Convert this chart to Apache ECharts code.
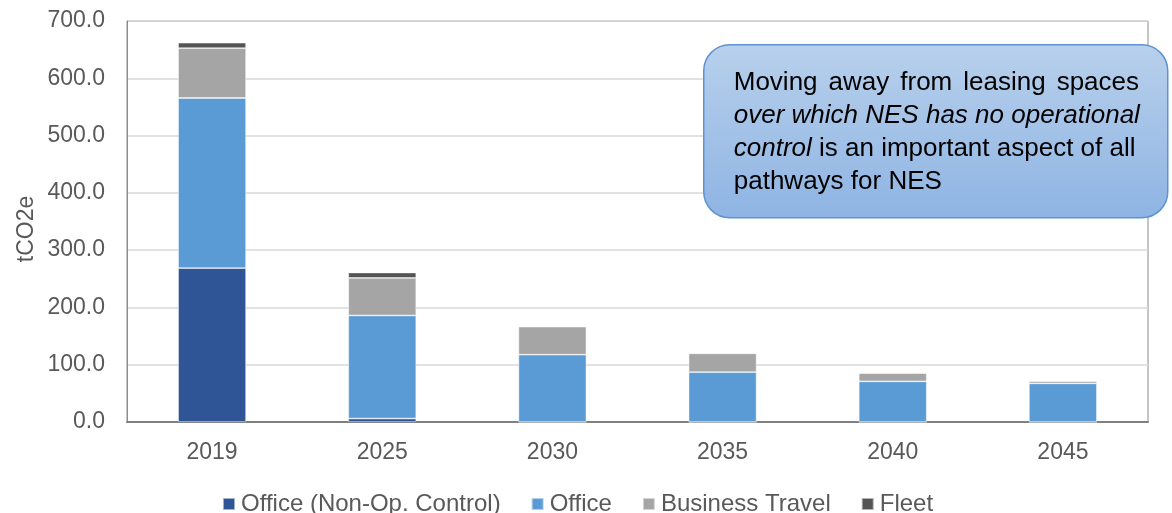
<!DOCTYPE html>
<html>
<head>
<meta charset="utf-8">
<script src="https://cdn.jsdelivr.net/npm/echarts@6/dist/echarts.min.js"></script>
<style>
  html, body { margin: 0; padding: 0; background: #fff; }
  #chart { width: 1172px; height: 513px; }
</style>
</head>
<body>
<div id="chart"></div>
<script>
// Emissions pathway, tCO2e by year and source
const years = ['2019', '2025', '2030', '2035', '2040', '2045'];
const officeNonOp = [268.6, 6, 0, 0, 0, 0];
const office = [297, 180, 117.5, 87, 71, 67.5];
const businessTravel = [87, 65.5, 49, 33, 14.5, 4];
const fleet = [9.5, 9.5, 1.5, 1, 1, 1];
const yTicks = [0, 100, 200, 300, 400, 500, 600, 700];

const FONT = '"Liberation Sans", Arial, sans-serif';
const GREY_TEXT = '#595959';

const seriesDefs = [
  { name: 'Office (Non-Op. Control)', data: officeNonOp, color: '#2F5597' },
  { name: 'Office', data: office, color: '#5B9BD5' },
  { name: 'Business Travel', data: businessTravel, color: '#A5A5A5' },
  { name: 'Fleet', data: fleet, color: '#545454' }
];

const chart = echarts.init(document.getElementById('chart'), null, { renderer: 'canvas' });

// Note box text: first line justified by widening the gaps between words
const line1Words = ['Moving', 'away', 'from', 'leasing', 'spaces'];
const line1 = line1Words.map(w => '{n|' + w + '}').join('{gap| }');

chart.setOption({
  animation: false,
  backgroundColor: '#fff',
  grid: {
    left: 127, right: 24, top: 21, bottom: 91,
    show: true, borderColor: '#8c8c8c', borderWidth: 1
  },
  legend: {
    top: 487,
    left: 217,
    icon: 'rect',
    itemWidth: 12,
    itemHeight: 12,
    itemGap: 30,
    textStyle: { fontFamily: FONT, fontSize: 24, color: GREY_TEXT, padding: [0, 0, 0, 1] },
    data: seriesDefs.map(s => s.name)
  },
  xAxis: {
    type: 'category',
    data: years,
    axisTick: { show: false },
    axisLine: { lineStyle: { color: '#808080', width: 2 } },
    axisLabel: { fontFamily: FONT, fontSize: 23, color: GREY_TEXT, margin: 19 }
  },
  yAxis: {
    type: 'value',
    min: yTicks[0],
    max: yTicks[yTicks.length - 1],
    interval: 100,
    axisLine: { show: true, lineStyle: { color: '#8c8c8c' } },
    axisTick: { show: false },
    axisLabel: {
      fontFamily: FONT, fontSize: 23, color: GREY_TEXT, margin: 22,
      formatter: v => v.toFixed(1)
    },
    splitLine: { lineStyle: { color: '#d9d9d9', width: 1.5 } }
  },
  series: seriesDefs.map(s => ({
    name: s.name,
    type: 'bar',
    stack: 'total',
    barWidth: 68,
    data: s.data,
    itemStyle: { color: s.color, borderColor: 'rgba(255,255,255,0.55)', borderWidth: 0.8 }
  })),
  graphic: [
    {
      // y-axis title
      type: 'text',
      x: 27,
      y: 229,
      rotation: Math.PI / 2,
      z: 100,
      style: {
        text: 'tCO2e',
        fontFamily: FONT,
        fontSize: 23,
        fill: GREY_TEXT,
        align: 'center',
        verticalAlign: 'middle'
      }
    },
    {
      type: 'group',
      left: 703,
      top: 44,
      z: 100,
      children: [
        {
          type: 'rect',
          z: 100,
          shape: { x: 0, y: 0, width: 464, height: 173, r: 26 },
          style: {
            fill: new echarts.graphic.LinearGradient(0, 0, 0, 1, [
              { offset: 0, color: '#B8D0EC' },
              { offset: 1, color: '#8EB4E3' }
            ]),
            stroke: '#5E93D0',
            lineWidth: 1.5
          }
        },
        {
          type: 'text',
          z: 101,
          x: 30,
          y: 22,
          style: {
            text: [
              line1,
              '{i|over which NES has no operational}',
              '{i|control}{n| is an important aspect of all}',
              '{n|pathways for NES}'
            ].join('\n'),
            fill: '#000',
            rich: {
              n: { fontFamily: FONT, fontSize: 26, lineHeight: 33, color: '#000' },
              i: { fontFamily: FONT, fontSize: 26, lineHeight: 33, color: '#000', fontStyle: 'italic' },
              gap: { fontFamily: FONT, fontSize: 26, lineHeight: 33, width: 11 }
            }
          }
        }
      ]
    }
  ]
});
</script>
</body>
</html>
